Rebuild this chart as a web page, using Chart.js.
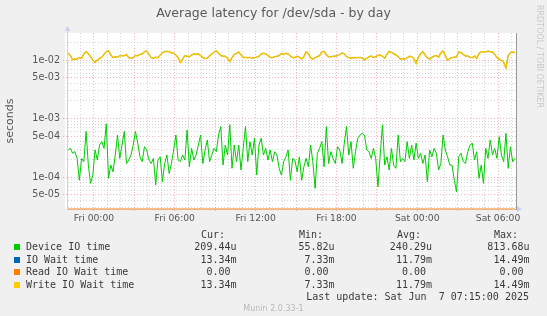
<!DOCTYPE html>
<html lang="en">
<head>
    <meta charset="UTF-8">
    <title>Average latency for /dev/sda - by day</title>
    <script src="https://cdn.jsdelivr.net/npm/chart.js"></script>
    <style>
        html, body { margin: 0; padding: 0; background: #f0f0f0; }
        #wrap { position: relative; width: 547px; height: 316px; overflow: hidden; }
        #chart { position: absolute; left: 0; top: 0; }
        .txt { position: absolute; white-space: pre; }
        #title { left: 0; width: 547px; top: 5px; text-align: center; font: 12.5px "DejaVu Sans"; color: #5a5a5a; }
        #rrd { left: 535px; top: 5px; writing-mode: vertical-rl; font: 8px "DejaVu Sans"; color: #c8c8c8; }
        .mono { font: 10px "DejaVu Sans Mono"; color: #3a3a3a; line-height: 12px; }
        .sw { position: absolute; width: 6px; height: 6px; }
        #munin { left: 0; width: 547px; top: 304px; text-align: center; font: 8px "DejaVu Sans"; color: #b8b8b8; }
    </style>
</head>
<body>
<div id="wrap">
    <canvas id="chart" width="547" height="316"></canvas>
    <div id="title" class="txt">Average latency for /dev/sda - by day</div>
    <div id="rrd" class="txt">RRDTOOL / TOBI OETIKER</div>
    <div id="legend"></div>
    <div id="munin" class="txt">Munin 2.0.33-1</div>
</div>

<script>
    // samples: every 10 minutes, first one Thu 22:05 (hours counted from Fri 00:00)
    const START_HOUR = -1.9167;
    const STEP_HOURS = 1 / 6;

    // Device IO time, microseconds
    const deviceIoUs = [
        290, 309, 255, 271, 208, 88, 208, 183, 600, 160,
        78, 108, 290, 195, 352, 402, 309, 814, 95, 160,
        123, 238, 522, 208, 352, 600, 170, 195, 238, 352,
        600, 380, 222, 183, 330, 290, 195, 170, 208, 73,
        195, 222, 83, 170, 238, 115, 170, 290, 522, 195,
        183, 238, 195, 640, 150, 309, 195, 238, 352, 522,
        170, 290, 430, 183, 238, 309, 271, 522, 730, 160,
        352, 238, 780, 141, 352, 183, 352, 132, 309, 730,
        183, 402, 238, 460, 108, 352, 460, 238, 309, 195,
        290, 183, 271, 238, 141, 108, 183, 222, 290, 88,
        208, 195, 123, 222, 88, 150, 208, 150, 352, 183,
        64, 255, 309, 402, 150, 730, 170, 271, 208, 170,
        330, 290, 170, 380, 730, 238, 402, 141, 271, 460,
        522, 560, 522, 290, 271, 208, 309, 208, 68, 238,
        780, 160, 222, 132, 309, 160, 141, 522, 183, 208,
        183, 402, 208, 352, 195, 380, 208, 255, 170, 238,
        83, 290, 222, 309, 255, 132, 170, 522, 290, 222,
        160, 160, 88, 56, 222, 255, 183, 170, 271, 352,
        380, 195, 271, 95, 160, 78, 309, 208, 430, 238,
        309, 208, 490, 238, 183, 560, 141, 330, 183, 209
    ];

    // Write IO Wait time, milliseconds
    const writeWaitMs = [
        13.2, 11.9, 10.1, 10.4, 10.4, 11.0, 10.7, 12.8, 13.9, 12.8,
        11.4, 9.9, 9.1, 10.0, 10.7, 11.2, 12.5, 13.9, 14.49, 12.2,
        11.0, 11.4, 11.2, 11.9, 11.9, 11.9, 12.5, 11.0, 10.7, 11.0,
        12.0, 11.9, 12.5, 12.7, 13.9, 14.3, 12.5, 11.0, 10.7, 11.2,
        11.0, 12.2, 13.3, 13.9, 14.1, 13.9, 13.3, 13.0, 12.2, 11.0,
        9.1, 10.4, 11.9, 11.6, 11.4, 12.2, 12.8, 12.5, 12.8, 11.9,
        11.0, 10.6, 10.7, 11.9, 12.7, 13.7, 14.3, 13.0, 11.9, 11.6,
        11.6, 10.7, 9.4, 11.0, 12.5, 13.0, 13.7, 12.2, 11.1, 11.1,
        11.0, 11.1, 10.7, 11.0, 11.2, 11.6, 12.7, 13.0, 12.8, 11.9,
        11.0, 11.0, 11.4, 11.6, 11.9, 13.0, 12.5, 13.0, 12.7, 11.6,
        11.0, 11.0, 11.6, 11.2, 10.4, 11.4, 13.9, 13.0, 10.9, 10.4,
        11.0, 11.4, 11.9, 13.9, 14.1, 12.2, 11.4, 11.4, 11.6, 11.7,
        11.9, 12.5, 13.2, 12.8, 11.4, 11.0, 10.7, 11.0, 10.9, 11.0,
        11.0, 10.9, 10.1, 10.7, 11.4, 11.7, 11.1, 11.4, 12.0, 12.2,
        11.6, 10.7, 12.5, 14.1, 13.5, 12.8, 12.2, 11.4, 10.4, 10.5,
        10.4, 10.9, 11.6, 11.4, 10.5, 8.8, 11.2, 12.8, 13.9, 12.2,
        10.9, 10.4, 11.1, 11.7, 11.9, 11.2, 13.3, 14.3, 11.9, 9.9,
        10.7, 11.0, 11.2, 11.4, 13.7, 13.5, 12.5, 11.7, 11.7, 11.2,
        11.0, 11.7, 10.7, 13.0, 13.9, 13.9, 13.7, 14.3, 13.9, 13.7,
        12.5, 11.1, 10.3, 9.9, 9.1, 7.33, 11.9, 13.5, 13.7, 13.34
    ];

    // IO Wait time is identical to the write wait (no reads), drawn beneath it
    const ioWaitMs = writeWaitMs.slice();
    // Read IO Wait time is 0.00 all day
    const readWaitMs = new Array(writeWaitMs.length).fill(0);

    // x axis: hours from Fri 00:00
    const X_MIN = -2.0;
    const X_MAX = 31.33;
    const X_TICK_HOURS = [0, 6, 12, 18, 24, 30];
    const X_TICK_LABELS = ["Fri 00:00", "Fri 06:00", "Fri 12:00", "Fri 18:00", "Sat 00:00", "Sat 06:00"];

    // y axis: seconds, log scale
    const Y_MIN = 2.84e-5;
    const Y_MAX = 2.9e-2;

    // legend table
    const LEGEND_NAMES = ["Device IO time", "IO Wait time", "Read IO Wait time", "Write IO Wait time"];
    const LEGEND_COLORS = ["#00cc00", "#0066b3", "#ff8000", "#ffcc00"];
    const CUR = ["209.44u", "13.34m", "0.00 ", "13.34m"];
    const MIN = ["55.82u", "7.33m", "0.00 ", "7.33m"];
    const AVG = ["240.29u", "11.79m", "0.00 ", "11.79m"];
    const MAX = ["813.68u", "14.49m", "0.00 ", "14.49m"];
    const LAST_UPDATE = "Last update: Sat Jun  7 07:15:00 2025";

    const RED_GRID = "rgba(230,90,90,0.42)";
    const GRAY_GRID = "rgba(150,150,150,0.38)";

    function points(values, unit) {
        return values.map((v, i) => ({
            x: START_HOUR + i * STEP_HOURS,
            y: Math.max(v * unit, Y_MIN)   // zero cannot sit on a log axis, rrdtool pins it to the floor
        }));
    }

    function mantissa(v) {
        const e = Math.floor(Math.log10(v) + 1e-9);
        return Math.round(v / Math.pow(10, e));
    }

    function expLabel(v) {
        const e = Math.floor(Math.log10(v) + 1e-9);
        const m = Math.round(v / Math.pow(10, e));
        return m + "e" + (e < 0 ? "-" : "+") + String(Math.abs(e)).padStart(2, "0");
    }

    // grid positions
    const xGrid = [];
    for (let h = Math.ceil(X_MIN); h <= Math.floor(X_MAX); h++) xGrid.push(h);
    const yGrid = [];
    for (let e = -5; e <= -2; e++) {
        for (let m = 1; m <= 9; m++) {
            const v = m * Math.pow(10, e);
            if (v >= Y_MIN && v <= Y_MAX) yGrid.push(v);
        }
    }

    const isMajorHour = h => ((h % 3) + 3) % 3 === 0;
    const isMajorY = v => [1, 5].includes(mantissa(v));

    const plotBackground = {
        id: "plotBackground",
        beforeDraw(chart) {
            const a = chart.chartArea;
            const ctx = chart.ctx;
            ctx.save();
            ctx.fillStyle = "#ffffff";
            ctx.fillRect(a.left - 2, a.top, a.right - a.left + 2, a.bottom - a.top);
            ctx.restore();
        },
        afterDraw(chart) {
            // axis arrows
            const a = chart.chartArea;
            const ctx = chart.ctx;
            ctx.save();
            ctx.fillStyle = "#c8cff5";
            ctx.strokeStyle = "#c8cff5";
            ctx.beginPath();
            ctx.moveTo(a.left + 0.5, a.top);
            ctx.lineTo(a.left + 0.5, a.top - 3);
            ctx.stroke();
            ctx.beginPath();
            ctx.moveTo(a.left - 2.5, a.top - 2);
            ctx.lineTo(a.left + 3.5, a.top - 2);
            ctx.lineTo(a.left + 0.5, a.top - 7);
            ctx.fill();
            ctx.beginPath();
            ctx.moveTo(a.right + 1, a.bottom - 3);
            ctx.lineTo(a.right + 1, a.bottom + 3);
            ctx.lineTo(a.right + 6, a.bottom);
            ctx.fill();
            ctx.restore();
        }
    };

    new Chart(document.getElementById("chart"), {
        type: "line",
        data: {
            datasets: [
                { label: "Write IO Wait time", data: points(writeWaitMs, 1e-3), borderColor: "#f2c200", borderWidth: 1.5, order: 0 },
                { label: "Read IO Wait time", data: points(readWaitMs, 1e-3), borderColor: "#ff8000", order: 1 },
                { label: "IO Wait time", data: points(ioWaitMs, 1e-3), borderColor: "#0066b3", borderWidth: 0.6, order: 2 },
                { label: "Device IO time", data: points(deviceIoUs, 1e-6), borderColor: "#00cc00", order: 3 }
            ]
        },
        options: {
            responsive: false,
            animation: false,
            devicePixelRatio: 1,
            layout: { padding: { top: 33, right: 31, left: 0, bottom: 0 } },
            elements: {
                line: { borderWidth: 1, tension: 0, fill: false },
                point: { radius: 0 }
            },
            plugins: {
                legend: { display: false },
                title: { display: false },
                tooltip: { enabled: false }
            },
            scales: {
                x: {
                    type: "linear",
                    min: X_MIN,
                    max: X_MAX,
                    afterBuildTicks: axis => { axis.ticks = xGrid.map(v => ({ value: v })); },
                    afterFit: axis => { axis.height = 316 - 209; },
                    ticks: {
                        autoSkip: false,
                        maxRotation: 0,
                        padding: 1,
                        color: "#555",
                        font: { family: "DejaVu Sans", size: 9.2 },
                        callback: v => {
                            const i = X_TICK_HOURS.indexOf(v);
                            return i >= 0 ? X_TICK_LABELS[i] : "";
                        }
                    },
                    grid: {
                        color: ctx => ctx.tick && isMajorHour(ctx.tick.value) ? RED_GRID : GRAY_GRID,
                        tickColor: ctx => ctx.tick && isMajorHour(ctx.tick.value) ? RED_GRID : "rgba(0,0,0,0)",
                        tickLength: 3,
                        tickBorderDash: [1, 2]
                    },
                    border: { color: "#f4b088", dash: [1, 2] }
                },
                y: {
                    type: "logarithmic",
                    min: Y_MIN,
                    max: Y_MAX,
                    afterBuildTicks: axis => { axis.ticks = yGrid.map(v => ({ value: v })); },
                    afterFit: axis => { axis.width = 67; },
                    title: {
                        display: true,
                        text: "seconds",
                        color: "#555",
                        font: { family: "DejaVu Sans", size: 11 },
                        padding: { top: 4, bottom: 4 }
                    },
                    ticks: {
                        autoSkip: false,
                        padding: 3,
                        color: "#555",
                        font: { family: "DejaVu Sans", size: 9.6 },
                        callback: v => isMajorY(v) ? expLabel(v) : ""
                    },
                    grid: {
                        color: ctx => ctx.tick && isMajorY(ctx.tick.value) ? RED_GRID : GRAY_GRID,
                        tickColor: ctx => ctx.tick && isMajorY(ctx.tick.value) ? RED_GRID : "rgba(0,0,0,0)",
                        tickLength: 4,
                        tickBorderDash: [1, 2]
                    },
                    border: { color: "#c8cff5", dash: [1, 2] }
                },
                y2: {
                    type: "linear",
                    position: "right",
                    min: 0,
                    max: 1,
                    afterFit: axis => { axis.width = 0; },
                    ticks: { display: false },
                    grid: { drawOnChartArea: false, drawTicks: false },
                    border: { color: "#9a9a9a" }
                }
            }
        },
        plugins: [plotBackground]
    });

    // legend table below the plot
    const legend = document.getElementById("legend");
    function put(text, x, y, alignRight, cls) {
        const d = document.createElement("div");
        d.className = "txt " + (cls || "mono");
        d.textContent = text;
        d.style.top = (y - 6) + "px";
        if (alignRight) {
            d.style.right = (547 - x) + "px";
        } else {
            d.style.left = x + "px";
        }
        legend.appendChild(d);
    }

    const ROW_Y = [247.4, 259.9, 272.3, 284.8];
    put("Cur:", 201, 234.6);
    put("Min:", 299, 234.6);
    put("Avg:", 397, 234.6);
    put("Max:", 494, 234.6);
    LEGEND_NAMES.forEach((name, i) => {
        const sw = document.createElement("div");
        sw.className = "sw";
        sw.style.left = "14px";
        sw.style.top = (ROW_Y[i] - 3) + "px";
        sw.style.background = LEGEND_COLORS[i];
        legend.appendChild(sw);
        put(name, 26, ROW_Y[i]);
        put(CUR[i], 236.5, ROW_Y[i], true);
        put(MIN[i], 334.5, ROW_Y[i], true);
        put(AVG[i], 432, ROW_Y[i], true);
        put(MAX[i], 529.5, ROW_Y[i], true);
    });
    put(LAST_UPDATE, 529, 297.2, true);
</script>
</body>
</html>
